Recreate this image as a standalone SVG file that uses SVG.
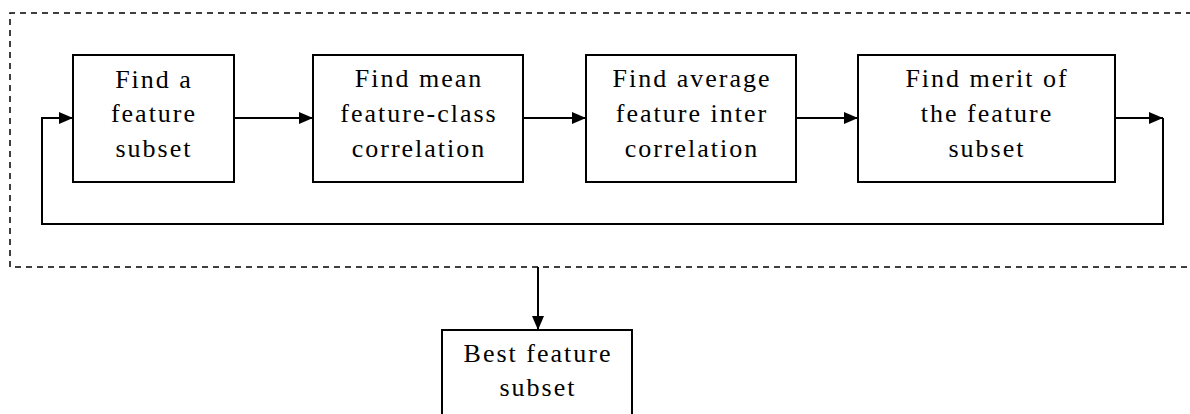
<svg xmlns="http://www.w3.org/2000/svg" width="1190" height="414" viewBox="0 0 1190 414">
<style>
.box{fill:#fff;stroke:#000;stroke-width:2}
.t{font-family:"Liberation Serif","DejaVu Serif",serif;font-size:26px;letter-spacing:2px;fill:#000;text-anchor:middle}
.c{fill:none;stroke:#000;stroke-width:2}
.d{fill:none;stroke:#000;stroke-width:1.5;stroke-dasharray:6,5}
</style>
<defs>
<marker id="ah" viewBox="0 0 14 12" refX="14" refY="6" markerWidth="14" markerHeight="12" markerUnits="userSpaceOnUse" orient="auto">
<path d="M0,0 L14,6 L0,12 Z" fill="#000"/>
</marker>
</defs>
<path class="d" d="M1192,13 L10,13 L10,267 L1192,267"/>
<g id="connectors">
<line class="c" x1="234" y1="118" x2="313" y2="118" marker-end="url(#ah)"/>
<line class="c" x1="523" y1="118" x2="586" y2="118" marker-end="url(#ah)"/>
<line class="c" x1="796" y1="118" x2="858" y2="118" marker-end="url(#ah)"/>
<polyline class="c" points="1115,118 1163,118" marker-end="url(#ah)"/>
<polyline class="c" points="1163,118 1163,224 42,224 42,118 73,118" marker-end="url(#ah)"/>
<line class="c" x1="538" y1="267" x2="538" y2="330" marker-end="url(#ah)"/>
</g>
<g id="n1"><rect class="box" x="73" y="55" width="161" height="127"/>
<text class="t" x="154" y="88">Find a</text><text class="t" x="154" y="122">feature</text><text class="t" x="154" y="157">subset</text></g>
<g id="n2"><rect class="box" x="313" y="55" width="210" height="127"/>
<text class="t" x="419" y="87">Find mean</text><text class="t" x="419" y="122">feature-class</text><text class="t" x="419" y="157">correlation</text></g>
<g id="n3"><rect class="box" x="586" y="55" width="210" height="127"/>
<text class="t" x="692" y="87">Find average</text><text class="t" x="692" y="122">feature inter</text><text class="t" x="692" y="157">correlation</text></g>
<g id="n4"><rect class="box" x="858" y="55" width="257" height="127"/>
<text class="t" x="987" y="87">Find merit of</text><text class="t" x="987" y="122">the feature</text><text class="t" x="987" y="157">subset</text></g>
<g id="n5"><rect class="box" x="442" y="330" width="190" height="100"/>
<text class="t" x="538" y="362">Best feature</text><text class="t" x="538" y="396">subset</text></g>
</svg>
